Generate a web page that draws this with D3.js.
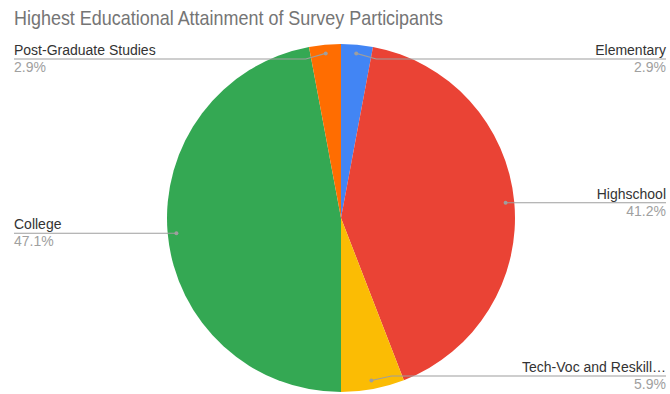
<!DOCTYPE html>
<html>
<head>
<meta charset="utf-8">
<script src="https://cdn.jsdelivr.net/npm/d3@7"></script>
<style>
  html, body { margin: 0; padding: 0; background: #fff; }
  svg { display: block; font-family: "Liberation Sans", Arial, sans-serif; }
</style>
</head>
<body>
<svg id="chart" width="670" height="394"></svg>
<script>
// Survey responses by highest educational attainment
const categories = ["Elementary", "Highschool", "Tech-Voc and Reskilling", "College", "Post-Graduate Studies"];
const counts = [1, 14, 2, 16, 1];
const colors = ["#4285F4", "#EA4335", "#FBBC04", "#34A853", "#FF6D01"];
const title = "Highest Educational Attainment of Survey Participants";

const W = 670, H = 394;
const cx = 341, cy = 218, R = 174;
const svg = d3.select("#chart");

svg.append("text")
  .attr("x", 14).attr("y", 25)
  .attr("font-size", 21)
  .attr("fill", "#757575")
  .attr("textLength", 429)
  .attr("lengthAdjust", "spacingAndGlyphs")
  .text(title);

const data = categories.map((c, i) => ({ name: c, value: counts[i], color: colors[i] }));
const total = d3.sum(counts);

const pie = d3.pie().value(d => d.value).sort(null);
const arcs = pie(data);
const arc = d3.arc().innerRadius(0).outerRadius(R);
const dotArc = d3.arc().innerRadius(R * 0.95).outerRadius(R * 0.95);

const g = svg.append("g").attr("transform", `translate(${cx},${cy})`);
g.selectAll("path.slice")
  .data(arcs)
  .join("path")
  .attr("class", "slice")
  .attr("d", arc)
  .attr("fill", d => d.data.color);

const fmt = v => (v / total * 100).toFixed(1) + "%";

// truncate long labels to fit the available width
function fitText(sel, maxW) {
  const node = sel.node();
  let s = sel.text();
  if (node.getComputedTextLength() <= maxW) return;
  while (s.length > 1) {
    s = s.slice(0, -1).trimEnd();
    sel.text(s + "…");
    if (node.getComputedTextLength() <= maxW) return;
  }
}

const labels = svg.append("g");
arcs.forEach(d => {
  const [dx, dy] = dotArc.centroid(d);
  const px = cx + dx, py = cy + dy;
  const mid = (d.startAngle + d.endAngle) / 2;
  const right = mid < Math.PI;
  const ly = Math.max(59, Math.min(376, py));
  const lx = right ? 666 : 14;

  labels.append("path")
    .attr("d", `M${px},${py}L${right ? px + 20 : px - 20},${ly}L${lx},${ly}`)
    .attr("fill", "none")
    .attr("stroke", "#9e9e9e")
    .attr("stroke-width", 1.2);
  labels.append("circle")
    .attr("cx", px).attr("cy", py).attr("r", 2)
    .attr("fill", "#9e9e9e");

  const name = labels.append("text")
    .attr("x", lx).attr("y", ly - 4)
    .attr("text-anchor", right ? "end" : "start")
    .attr("font-size", 14)
    .attr("fill", "#333")
    .text(d.data.name);
  fitText(name, 147);
  labels.append("text")
    .attr("x", lx).attr("y", ly + 13)
    .attr("text-anchor", right ? "end" : "start")
    .attr("font-size", 14)
    .attr("fill", "#a0a0a0")
    .text(fmt(d.data.value));
});
</script>
</body>
</html>
